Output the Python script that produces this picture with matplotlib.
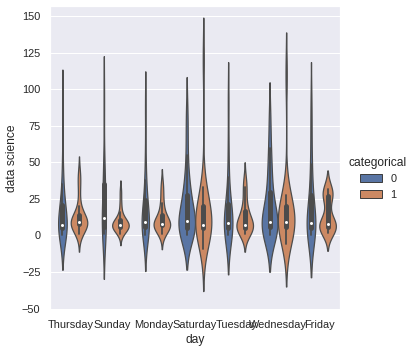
import pandas as pd
import matplotlib
matplotlib.use("Agg")
import matplotlib.pyplot as plt
import seaborn as sns
from matplotlib.patches import Patch

# sample values per day (hue 0 / hue 1)
days = ['Thursday', 'Sunday', 'Monday', 'Saturday', 'Tuesday', 'Wednesday', 'Friday']

thursday_0 = [0, 2, 3, 4, 5, 5, 6, 6, 7, 7, 8, 10, 12, 15, 20, 24, 28, 35, 50, 90]
thursday_1 = [1, 4, 6, 7, 7, 8, 8, 8, 9, 9, 9, 10, 10, 11, 13, 16, 20, 30, 38, 42]
sunday_0 = [1, 3, 5, 6, 8, 11, 12, 14, 25, 35, 40, 48, 92]
sunday_1 = [1, 3, 4, 5, 5, 6, 6, 7, 7, 7, 8, 8, 9, 10, 11, 12, 16, 22, 30]
monday_0 = [0, 2, 4, 5, 5, 6, 7, 8, 9, 9, 10, 12, 16, 22, 27, 30, 38, 55, 88]
monday_1 = [1, 4, 6, 6, 7, 7, 7, 8, 8, 8, 9, 11, 14, 18, 22, 29, 35]
saturday_0 = [0, 1, 2, 3, 4, 5, 5, 6, 7, 8, 9, 9, 10, 12, 14, 18, 22, 26, 28, 30, 35, 42, 55, 70, 85]
saturday_1 = [-9, 2, 3, 4, 5, 5, 6, 6, 7, 7, 8, 9, 12, 16, 20, 22, 24, 30, 33, 120]
tuesday_0 = [0, 2, 3, 5, 5, 6, 7, 8, 8, 9, 11, 14, 18, 23, 27, 40, 60, 92]
tuesday_1 = [1, 3, 4, 5, 5, 6, 6, 7, 7, 8, 9, 12, 15, 17, 20, 28, 33, 38]
wednesday_0 = [0, 2, 4, 5, 5, 6, 7, 8, 9, 9, 11, 14, 20, 28, 32, 40, 50, 60, 80]
wednesday_1 = [-6, 3, 5, 6, 6, 7, 8, 8, 9, 9, 12, 16, 20, 22, 25, 28, 110]
friday_0 = [0, 2, 4, 5, 5, 6, 7, 8, 8, 9, 10, 15, 22, 30, 40, 49, 70, 90]
friday_1 = [2, 4, 5, 5, 6, 6, 6, 7, 7, 8, 10, 14, 24, 26, 28, 29, 30, 31, 32]

groups = {
    ('Thursday', 0): thursday_0, ('Thursday', 1): thursday_1,
    ('Sunday', 0): sunday_0, ('Sunday', 1): sunday_1,
    ('Monday', 0): monday_0, ('Monday', 1): monday_1,
    ('Saturday', 0): saturday_0, ('Saturday', 1): saturday_1,
    ('Tuesday', 0): tuesday_0, ('Tuesday', 1): tuesday_1,
    ('Wednesday', 0): wednesday_0, ('Wednesday', 1): wednesday_1,
    ('Friday', 0): friday_0, ('Friday', 1): friday_1,
}

rows = []
for (day, cat), vals in groups.items():
    for v in vals:
        rows.append({'day': day, 'categorical': cat, 'data science': v})
df = pd.DataFrame(rows)

sns.set_theme()
plt.rcParams['font.family'] = ['Liberation Sans', 'DejaVu Sans']

fig = plt.figure(figsize=(414 / 72, 352 / 72), dpi=72)
ax = fig.add_axes([50 / 414, 1 - 310 / 352, 290 / 414, 304 / 352])

# old-style scale_hue: area normalised within each day
for day in days:
    sub = df[df['day'] == day]
    sns.violinplot(data=sub, x='day', y='data science', hue='categorical',
                   order=days, hue_order=[0, 1], ax=ax, legend=False,
                   common_norm=True,
                   inner_kws=dict(box_width=5, whis_width=1.8, marker='o'))

for ln in ax.lines:
    if ln.get_marker() == 'o':
        ln.set_markersize(3)
        ln.set_markeredgewidth(0)
        ln.set_markerfacecolor('white')

ax.set_ylim(-51, 157)
ax.set_xlabel('day')
ax.set_ylabel('data science')

pal = sns.color_palette()
handles = [Patch(facecolor=sns.desaturate(pal[i], 0.75), edgecolor='#3f3f3f', label=str(i))
           for i in range(2)]
fig.legend(handles=handles, title='categorical', loc='center left',
           bbox_to_anchor=(339 / 414, 1 - 178 / 352), frameon=False)

fig.savefig('out.png', dpi=72)
